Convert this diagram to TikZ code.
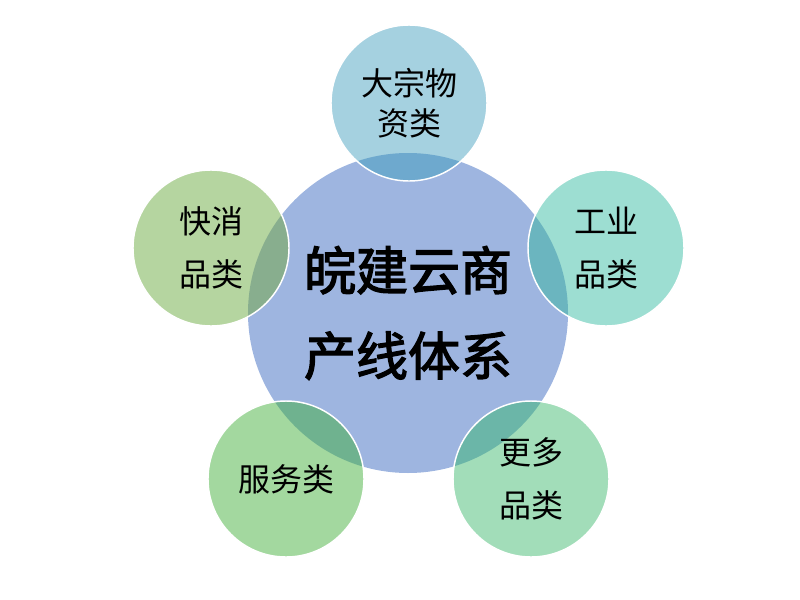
\documentclass[tikz,border=0pt]{standalone}
\usepackage{fontspec}
\newfontfamily\cjk{Noto Sans CJK SC}
\newfontfamily\cjkb{Noto Sans CJK SC}[FakeBold=2.5]
\pgfdeclarelayer{bg}
\pgfsetlayers{bg,main}
\definecolor{cmain}{HTML}{9EB5E0}
\definecolor{ctop}{HTML}{A5D1E0}
\definecolor{otop}{HTML}{6EA9CE}
\definecolor{cright}{HTML}{9DDED2}
\definecolor{oright}{HTML}{6BB5BF}
\definecolor{cleft}{HTML}{B5D5A0}
\definecolor{oleft}{HTML}{88AE8E}
\definecolor{cbl}{HTML}{A3D89F}
\definecolor{obl}{HTML}{6FB28F}
\definecolor{cbr}{HTML}{A2DDB9}
\definecolor{obr}{HTML}{6BB6A8}
\tikzset{
  hub/.style={circle,minimum size=240pt,inner sep=0pt,align=center,
    font=\cjkb\fontsize{39}{64}\selectfont},
  leaf/.style={circle,minimum size=117pt,inner sep=0pt,align=center,
    font=\cjk\fontsize{24}{40}\selectfont},
  rim/.style={draw=white,line width=1.1pt}
}
\begin{document}
\begin{tikzpicture}[x=0.75pt,y=-0.75pt]
\useasboundingbox (0,0) rectangle (800,600);
\node[hub] (c) at (408,313) {\raisebox{2pt}{皖建云商}\\\raisebox{2pt}{产线体系}};
\node[leaf] (t) at (409,103) {大宗物\\[-10pt]资类};
\node[leaf] (r) at (606,248) {工业\\品类};
\node[leaf] (l) at (211,248) {\raisebox{-3pt}{快消}\\\raisebox{-3pt}{品类}};
\node[leaf] (bl) at (286,479) {服务类};
\node[leaf] (br) at (531,479) {\raisebox{-2pt}{更多}\\\raisebox{-2pt}{品类}};
\begin{pgfonlayer}{bg}
  \fill[cmain] (c.center) circle (120pt);
  \foreach \n/\f/\o in {t/ctop/otop,r/cright/oright,l/cleft/oleft,bl/cbl/obl,br/cbr/obr}{
    \fill[\f] (\n.center) circle (58.5pt);
    \begin{scope}
      \clip (c.center) circle (120pt);
      \fill[\o] (\n.center) circle (58.5pt);
    \end{scope}
    \draw[rim] (\n.center) circle (58.5pt);
  }
\end{pgfonlayer}
\end{tikzpicture}
\end{document}
